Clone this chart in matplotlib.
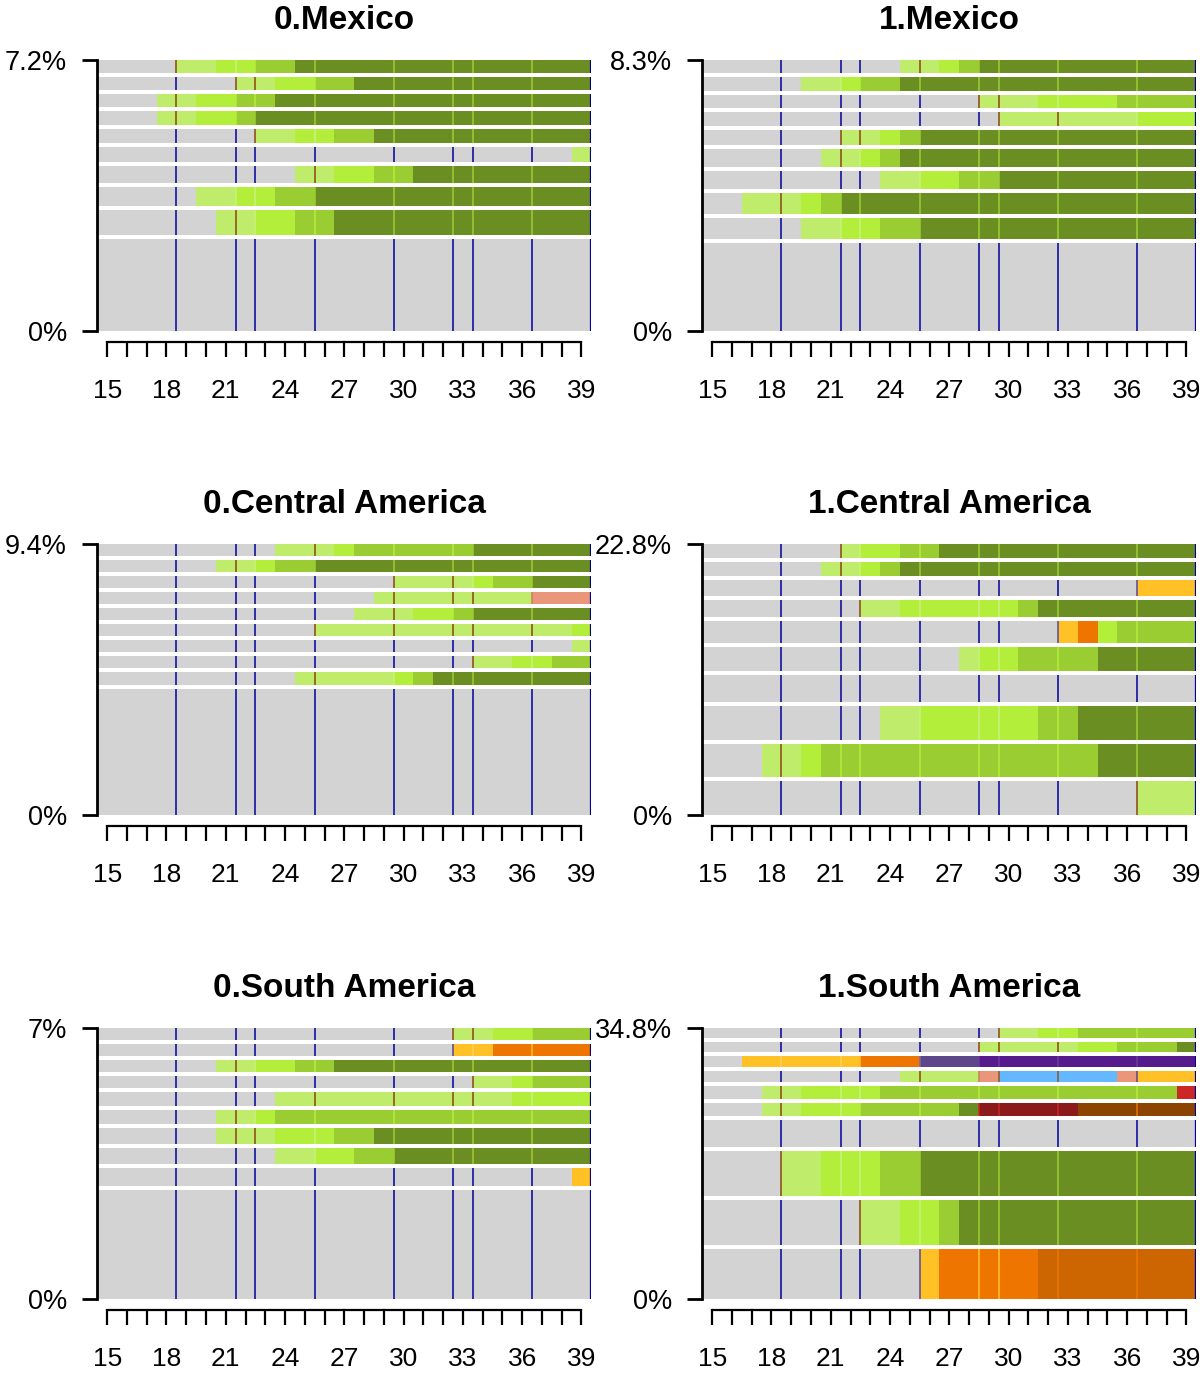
import matplotlib
matplotlib.use("Agg")
import matplotlib.pyplot as plt

plt.rcParams['font.family'] = ['Liberation Sans', 'DejaVu Sans']

# ages on the x axis, one cell per year
ages = list(range(15, 40))

# state letters -> fill colours
state_colors = {
    "G": "#D3D3D3", "L": "#BFEC6A", "B": "#B3EE3A", "M": "#9ACD32", "D": "#6B8E23",
    "Y": "#FFC125", "O": "#EE7600", "R": "#CD6600", "S": "#E9967A", "U": "#63B8FF",
    "P": "#551A8B", "V": "#5D478B", "F": "#CD2626", "K": "#8B1A1A", "N": "#8B4500",
}
# colour of the thin seams seen inside each state
seam_colors = {
    "G": "#00009C", "L": "#8B4513", "B": "#C8F27A", "M": "#B3EE3A", "D": "#9ACD32",
    "Y": "#FFD35C", "O": "#FFC125", "R": "#EE7600", "S": "#C88060", "U": "#8B5A2B",
    "P": "#6C3A9C", "V": "#7A6AAA", "F": "#EE3B3B", "K": "#CD2626", "N": "#EE7600",
}
entry_seam = {"Y": "#5D478B"}

titles = ["0.Mexico", "1.Mexico", "0.Central America", "1.Central America",
          "0.South America", "1.South America"]

# sequences, top row first; "G4 L2" = 4 years gray then 2 years light green
mex0 = ["G4 L2 B2 M2 D15", "G7 L2 B2 M2 D12", "G3 L2 B2 M2 D16", "G3 L2 B2 M1 D17",
        "G8 L2 B2 M2 D11", "G24 L1", "G10 L2 B2 M2 D9", "G5 L2 B2 M2 D14",
        "G6 L2 B2 M2 D13", "G25"]
mex1 = ["G10 L2 B1 M1 D11", "G5 L2 B1 M2 D15", "G14 L3 B4 M4", "G15 L7 B3",
        "G7 L2 B1 M1 D14", "G6 L2 B1 M1 D15", "G9 L2 B2 M2 D10", "G2 L3 B1 M1 D18",
        "G5 L2 B2 M2 D14", "G25"]
cam0 = ["G9 L3 B1 M6 D6", "G6 L2 B1 M2 D14", "G15 L4 B1 M2 D3", "G14 L8 S3",
        "G13 L3 B2 M1 D6", "G11 L13 B1", "G24 L1", "G19 L2 B2 M2",
        "G10 L5 B1 M1 D8", "G25"]
cam1 = ["G7 L1 B2 M2 D13", "G6 L2 B1 M1 D15", "G22 Y3", "G8 L2 B6 M1 D8",
        "G18 Y1 O1 B1 M4", "G13 L1 B2 M4 D5", "G25", "G9 L2 B6 M2 D6",
        "G3 L2 B1 M14 D5", "G22 L3"]
sam0 = ["G18 L2 B2 M3", "G18 Y2 O5", "G6 L2 B2 M2 D13", "G19 L2 B1 M3",
        "G9 L12 B4", "G6 L2 B1 M16", "G6 L3 B3 M2 D11", "G9 L2 B2 M2 D10",
        "G24 Y1", "G25"]
sam1 = ["G15 L2 B2 M6", "G14 L5 B2 M3 D1", "G2 Y6 O3 V3 P11", "G10 L4 S1 U6 S1 Y3",
        "G3 L2 B4 M15 F1", "G3 L2 B3 M5 D1 K5 N6", "G25", "G4 L2 B3 M2 D14",
        "G8 L2 B2 M1 D12", "G11 Y1 O5 R8"]
sequences = [mex0, mex1, cam0, cam1, sam0, sam1]

# frequencies (%), top row first
f_mex0 = [0.40, 0.40, 0.40, 0.43, 0.43, 0.46, 0.52, 0.58, 0.77, 2.82]
f_mex1 = [0.47, 0.47, 0.47, 0.50, 0.54, 0.64, 0.64, 0.72, 0.75, 3.11]
f_cam0 = [0.48, 0.48, 0.48, 0.48, 0.48, 0.48, 0.48, 0.48, 0.52, 5.04]
f_cam1 = [1.36, 1.36, 1.55, 1.65, 2.13, 2.33, 2.62, 3.27, 3.27, 3.27]
f_sam0 = [0.36, 0.36, 0.36, 0.36, 0.42, 0.42, 0.45, 0.48, 0.54, 3.26]
f_sam1 = [1.49, 1.49, 1.64, 1.64, 1.93, 1.93, 4.02, 6.54, 6.69, 7.44]
freqs = [f_mex0, f_mex1, f_cam0, f_cam1, f_sam0, f_sam1]

# rendering seams of the original picture (cell edges), per column
seams_left = [18.5, 21.5, 22.5, 25.5, 29.5, 32.5, 33.5, 36.5]
seams_right = [18.5, 21.5, 22.5, 25.5, 28.5, 29.5, 32.5, 36.5]

SPACE = 0.17
W, H = 1203, 1375


def runs(code):
    return [(tok[0], int(tok[1:])) for tok in code.split()]


def expand(code):
    return "".join(s * n for s, n in runs(code))


fig = plt.figure(figsize=(W / 100, H / 100), dpi=100)

col_x = [97.3, 702.3]
row_top = [60, 544, 1028]
pw, ph = 494, 271

for i, (name, seqs, fr) in enumerate(zip(titles, sequences, freqs)):
    r, c = divmod(i, 2)
    ax = fig.add_axes([col_x[c] / W, 1 - (row_top[r] + ph) / H, pw / W, ph / H])
    seams = seams_left if c == 0 else seams_right

    seqs_b = seqs[::-1]
    fr_b = fr[::-1]
    total = sum(fr_b)
    gap = SPACE * total / len(fr_b)
    top = total + gap * (len(fr_b) - 1)

    y = 0.0
    for seq, h in zip(seqs_b, fr_b):
        start = 0
        for s, n in runs(seq):
            ax.barh(y, n, height=h, left=ages[start] - 0.5, align='edge',
                    color=state_colors[s], linewidth=0)
            start += n
        cells = expand(seq)
        for b in seams:
            k = int(b - ages[0] + 0.5)
            cur = cells[k]
            prev = cells[k - 1]
            col = seam_colors[cur]
            if cur != prev and cur in entry_seam:
                col = entry_seam[cur]
            ax.vlines(b, y, y + h, colors=col, linewidth=1.1)
        ax.vlines(ages[-1] + 0.5, y, y + h, colors="#00009C", linewidth=1.6)
        y += h + gap

    ax.set_xlim(ages[0] - 0.5, ages[-1] + 0.5)
    ax.set_ylim(0, top)

    for side in ("top", "right"):
        ax.spines[side].set_visible(False)
    ax.spines["left"].set_linewidth(2.0)
    ax.spines["left"].set_bounds(0, top)
    ax.spines["bottom"].set_linewidth(1.6)
    ax.spines["bottom"].set_position(("outward", 8))
    ax.spines["bottom"].set_bounds(ages[0], ages[-1])

    ax.set_xticks(ages)
    ax.set_xticklabels([str(a) if (a - ages[0]) % 3 == 0 else "" for a in ages])
    ax.set_yticks([0, top])
    ax.set_yticklabels(["0%", f"{round(total, 1):g}%"])
    ax.tick_params(axis="x", length=10.8, width=1.6, pad=15.5, labelsize=19)
    ax.tick_params(axis="y", length=10.8, width=2.0, pad=11, labelsize=19.5)

    ax.set_title(name, fontsize=24, fontweight="bold", pad=22)

fig.savefig("out.png", dpi=100)
